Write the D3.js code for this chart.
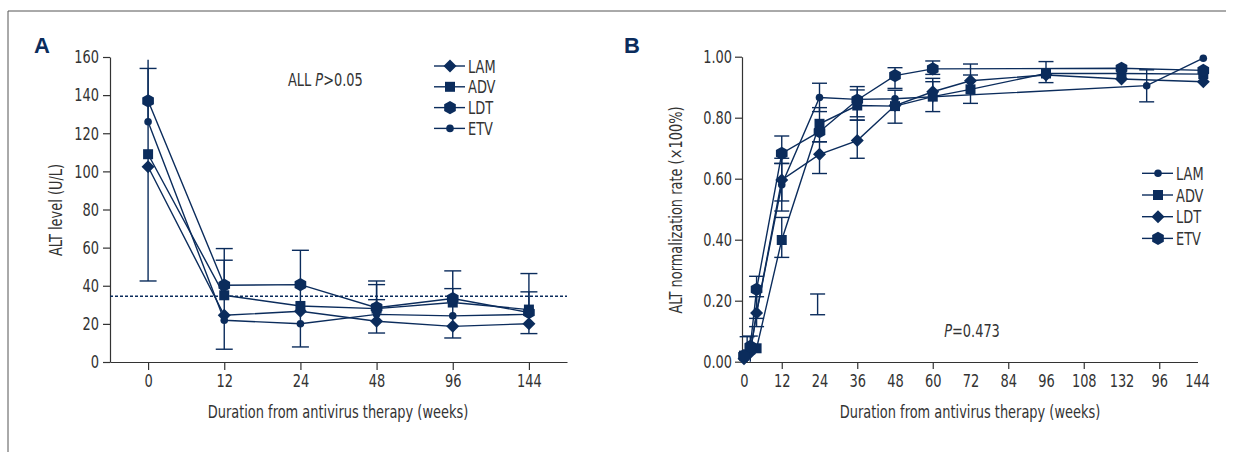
<!DOCTYPE html>
<html>
<head>
<meta charset="utf-8">
<script src="https://cdn.jsdelivr.net/npm/d3@7"></script>
<style>
  html, body { margin: 0; padding: 0; background: #fff; }
  svg { display: block; }
  text { font-family: "Liberation Sans Narrow", "DejaVu Sans Condensed", "Roboto Condensed", sans-serif; font-stretch: condensed; fill: #333; }
  .axis path, .axis line { stroke: #333; stroke-width: 1.2; }
  .axis text { font-size: 18px; fill: #333; }
</style>
</head>
<body>
<div id="chart"></div>
<script>
// ---- panel A: ALT level (U/L) ----
const weeksA = ['0', '12', '24', '48', '96', '144'];
const lamA = [102.4, 24.5, 26.6, 21.4, 18.7, 20.1];
const advA = [109, 35, 29.4, 28, 31.2, 27.5];
const ldtA = [137, 40.3, 40.6, 28.5, 33.3, 26];
const etvA = [126, 21.9, 20.1, 25, 24.2, 25];
const ticksA = [0, 20, 40, 60, 80, 100, 120, 140, 160];
const normalA = 34.5;
// [week, low, high, which caps]
const errA = [
    ['0', 42.5, 154, 'both'], ['0', 126, 158.5, 'none'],
    ['12', 6.7, 59.5, 'both'], ['12', 35, 53.4, 'hi'],
    ['24', 7.9, 58.6, 'both'],
    ['48', 15.2, 42.5, 'both'], ['48', 28, 40.6, 'hi'], ['48', 28, 32.7, 'hi'],
    ['96', 12.6, 47.8, 'both'], ['96', 33, 38.5, 'hi'],
    ['144', 14.9, 46.4, 'both'], ['144', 27, 36.8, 'hi'],
];

// ---- panel B: ALT normalization rate ----
const tickLabelsB = ['0', '12', '24', '36', '48', '60', '72', '84', '96', '108', '132', '96', '144'];
const lamBx = [0, 2, 4, 12, 24, 36, 48, 128, 146];
const lamB = [0.01, 0.03, 0.16, 0.58, 0.866, 0.86, 0.862, 0.905, 0.995];
const advBx = [0, 2, 4, 12, 24, 36, 48, 60, 72, 96, 120, 146];
const advB = [0.02, 0.04, 0.044, 0.399, 0.78, 0.84, 0.838, 0.869, 0.893, 0.945, 0.945, 0.943];
const ldtBx = [0, 2, 4, 12, 24, 36, 48, 60, 72, 96, 120, 146];
const ldtB = [0.01, 0.03, 0.16, 0.596, 0.68, 0.725, 0.84, 0.885, 0.921, 0.94, 0.927, 0.918];
const etvBx = [0, 2, 4, 12, 24, 36, 48, 60, 120, 146];
const etvB = [0.02, 0.05, 0.237, 0.683, 0.754, 0.858, 0.938, 0.96, 0.962, 0.955];
const ticksB = [0, 0.2, 0.4, 0.6, 0.8, 1.0];
const errB = [
    [1, 0, 0.082, 'hi'], [2, 0, 0.084, 'hi'],
    [4, 0.142, 0.28, 'both'], [4, 0.115, 0.213, 'both'],
    [12, 0.65, 0.74, 'both'], [12, 0.527, 0.667, 'both'], [12, 0.494, 0.65, 'both'], [12, 0.342, 0.473, 'both'],
    [23.4, 0.154, 0.222, 'both'],
    [24, 0.82, 0.913, 'both'], [24, 0.721, 0.833, 'both'], [24, 0.617, 0.721, 'both'],
    [36, 0.803, 0.902, 'both'], [36, 0.792, 0.891, 'both'], [36, 0.667, 0.792, 'both'],
    [48, 0.896, 0.964, 'both'], [48, 0.782, 0.89, 'both'],
    [60, 0.942, 0.986, 'both'], [60, 0.82, 0.929, 'both'], [60, 0.85, 0.918, 'hi'],
    [72, 0.847, 0.976, 'both'], [72, 0.893, 0.94, 'hi'],
    [96, 0.915, 0.984, 'both'],
    [128, 0.852, 0.957, 'both'],
];

const navy = '#0b2c5c';
const width = 1234;
const height = 452;
const squeezeK = 0.8;

const svg = d3.select('#chart').append('svg')
    .attr('width', width)
    .attr('height', height);

// frame
svg.append('path')
    .attr('d', `M8,${height} V11 H1226`)
    .attr('fill', 'none')
    .attr('stroke', '#555')
    .attr('stroke-width', 1);

function markerPath(shape) {
    if (shape === 'diamond') {
        const r = 6.5;
        return `M0,${-r}L${r},0L0,${r}L${-r},0Z`;
    }
    if (shape === 'square') {
        const r = 5;
        return `M${-r},${-r}H${r}V${r}H${-r}Z`;
    }
    if (shape === 'hexagon') {
        const r = 6.6;
        const pts = d3.range(6).map((i) => {
            const a = Math.PI / 2 + i * Math.PI / 3;
            return [r * Math.cos(a) * 1.02, r * Math.sin(a)];
        });
        return 'M' + pts.map((p) => p.join(',')).join('L') + 'Z';
    }
    const r = 3.8;
    return `M${r},0A${r},${r} 0 1,1 ${-r},0A${r},${r} 0 1,1 ${r},0Z`;
}

// the reference face is a condensed one: squeeze labels horizontally
function squeeze(el) {
    const len = el.getComputedTextLength();
    el.setAttribute('textLength', (len * squeezeK).toFixed(1));
    el.setAttribute('lengthAdjust', 'spacingAndGlyphs');
}

// mixed upright / italic label, condensed with a transform
function inlineText(g, x, y, parts, anchor) {
    const t = g.append('g')
        .attr('transform', `translate(${x},${y}) scale(${squeezeK},1)`)
        .append('text')
        .attr('class', 'done')
        .attr('text-anchor', anchor)
        .style('font-size', '18px');
    parts.forEach(([str, italic]) => {
        t.append('tspan')
            .style('font-style', italic ? 'italic' : 'normal')
            .text(str);
    });
}

function drawSeries(g, pts, x, y) {
    g.append('path')
        .datum(pts)
        .attr('fill', 'none')
        .attr('stroke', navy)
        .attr('stroke-width', 1.4)
        .attr('d', d3.line().x((d) => x(d[0])).y((d) => y(d[1])));
}

function drawMarkers(g, pts, shape, x, y) {
    g.selectAll(null)
        .data(pts)
        .join('path')
        .attr('transform', (d) => `translate(${x(d[0])},${y(d[1])})`)
        .attr('d', markerPath(shape))
        .attr('fill', navy);
}

function drawErrors(g, errs, x, y, capW) {
    errs.forEach(([wk, lo, hi, caps]) => {
        const cx = x(wk);
        g.append('line')
            .attr('x1', cx).attr('x2', cx)
            .attr('y1', y(lo)).attr('y2', y(hi))
            .attr('stroke', navy).attr('stroke-width', 1.4);
        const ends = caps === 'both' ? [lo, hi] : caps === 'hi' ? [hi] : caps === 'lo' ? [lo] : [];
        ends.forEach((v) => {
            g.append('line')
                .attr('x1', cx - capW).attr('x2', cx + capW)
                .attr('y1', y(v)).attr('y2', y(v))
                .attr('stroke', navy).attr('stroke-width', 1.4);
        });
    });
}

function drawLegend(g, x0, y0, dy, items) {
    items.forEach(([name, shape], i) => {
        const yy = y0 + i * dy;
        g.append('line')
            .attr('x1', x0).attr('x2', x0 + 31)
            .attr('y1', yy).attr('y2', yy)
            .attr('stroke', navy).attr('stroke-width', 1.4);
        g.append('path')
            .attr('transform', `translate(${x0 + 16},${yy})`)
            .attr('d', markerPath(shape))
            .attr('fill', navy);
        g.append('text')
            .attr('x', x0 + 34)
            .attr('y', yy + 6.5)
            .style('font-size', '18px')
            .text(name);
    });
}

// ================= Panel A =================
const gA = svg.append('g');
const xA = d3.scalePoint().domain(weeksA).range([110, 567]).padding(0.5);
const yA = d3.scaleLinear().domain([0, 160]).range([362, 57]);

gA.append('g')
    .attr('class', 'axis')
    .attr('transform', 'translate(110,0)')
    .call(d3.axisLeft(yA).tickValues(ticksA).tickSize(7).tickSizeOuter(0).tickPadding(4));
gA.append('g')
    .attr('class', 'axis')
    .attr('transform', 'translate(0,362)')
    .call(d3.axisBottom(xA).tickSize(8).tickSizeOuter(0).tickPadding(4));

gA.append('line')
    .attr('x1', 110).attr('x2', 567)
    .attr('y1', yA(normalA)).attr('y2', yA(normalA))
    .attr('stroke', navy).attr('stroke-width', 1.3)
    .attr('stroke-dasharray', '3,2');

const seriesA = [
    [weeksA.map((w, i) => [w, lamA[i]]), 'diamond'],
    [weeksA.map((w, i) => [w, advA[i]]), 'square'],
    [weeksA.map((w, i) => [w, ldtA[i]]), 'hexagon'],
    [weeksA.map((w, i) => [w, etvA[i]]), 'circle'],
];
seriesA.forEach(([pts]) => drawSeries(gA, pts, xA, yA));
drawErrors(gA, errA, xA, yA, 8.5);
seriesA.forEach(([pts, shape]) => drawMarkers(gA, pts, shape, xA, yA));

drawLegend(gA, 434, 66, 20.8, [['LAM', 'diamond'], ['ADV', 'square'], ['LDT', 'hexagon'], ['ETV', 'circle']]);

inlineText(gA, 288, 86, [['ALL ', false], ['P', true], ['>0.05', false]], 'start');

gA.append('text')
    .attr('x', 338).attr('y', 418)
    .attr('text-anchor', 'middle')
    .style('font-size', '18px')
    .text('Duration from antivirus therapy (weeks)');
gA.append('text')
    .attr('transform', 'translate(62,210) rotate(-90)')
    .attr('text-anchor', 'middle')
    .style('font-size', '18px')
    .text('ALT level (U/L)');
gA.append('text')
    .attr('class', 'done')
    .attr('x', 34).attr('y', 53)
    .style('font-family', '"Liberation Sans", Arial, sans-serif')
    .style('font-stretch', 'normal')
    .style('font-weight', 'bold')
    .style('font-size', '22px')
    .style('fill', navy)
    .text('A');

// ================= Panel B =================
const gB = svg.append('g');
const xB = d3.scaleLinear().domain([0, 144]).range([744, 1197]);
const yB = d3.scaleLinear().domain([0, 1]).range([361.7, 56.7]);

gB.append('g')
    .attr('class', 'axis')
    .attr('transform', 'translate(742,0)')
    .call(d3.axisLeft(yB).tickValues(ticksB).tickFormat(d3.format('.2f')).tickSize(7).tickSizeOuter(0).tickPadding(3));

const xAxisB = gB.append('g')
    .attr('class', 'axis')
    .attr('transform', 'translate(0,362)')
    .call(d3.axisBottom(xB)
        .tickValues(d3.range(0, 145, 12))
        .tickFormat((d, i) => tickLabelsB[i])
        .tickSize(7).tickSizeOuter(0).tickPadding(5));
xAxisB.select('.domain').attr('d', 'M742,0.5H1198');
// only every other tick carries a mark
xAxisB.selectAll('.tick line').attr('y2', (d, i) => (i % 2 === 1 ? 7 : 0));
xAxisB.selectAll('.tick text').attr('y', 12);

const seriesB = [
    [lamBx.map((w, i) => [w, lamB[i]]), 'circle'],
    [advBx.map((w, i) => [w, advB[i]]), 'square'],
    [ldtBx.map((w, i) => [w, ldtB[i]]), 'diamond'],
    [etvBx.map((w, i) => [w, etvB[i]]), 'hexagon'],
];
seriesB.forEach(([pts]) => drawSeries(gB, pts, xB, yB));
drawErrors(gB, errB, xB, yB, 7.5);
seriesB.forEach(([pts, shape]) => drawMarkers(gB, pts, shape, xB, yB));

drawLegend(gB, 1142, 173.3, 21.7, [['LAM', 'circle'], ['ADV', 'square'], ['LDT', 'diamond'], ['ETV', 'hexagon']]);

inlineText(gB, 972, 337, [['P', true], ['=0.473', false]], 'middle');

gB.append('text')
    .attr('x', 970).attr('y', 418)
    .attr('text-anchor', 'middle')
    .style('font-size', '18px')
    .text('Duration from antivirus therapy (weeks)');
gB.append('text')
    .attr('transform', 'translate(682,210) rotate(-90)')
    .attr('text-anchor', 'middle')
    .style('font-size', '18px')
    .text('ALT normalization rate (\u00d7100%)');
gB.append('text')
    .attr('class', 'done')
    .attr('x', 624).attr('y', 53)
    .style('font-family', '"Liberation Sans", Arial, sans-serif')
    .style('font-stretch', 'normal')
    .style('font-weight', 'bold')
    .style('font-size', '22px')
    .style('fill', navy)
    .text('B');

svg.selectAll('text')
    .filter(function () { return !this.classList.contains('done'); })
    .each(function () { squeeze(this); });
</script>
</body>
</html>
